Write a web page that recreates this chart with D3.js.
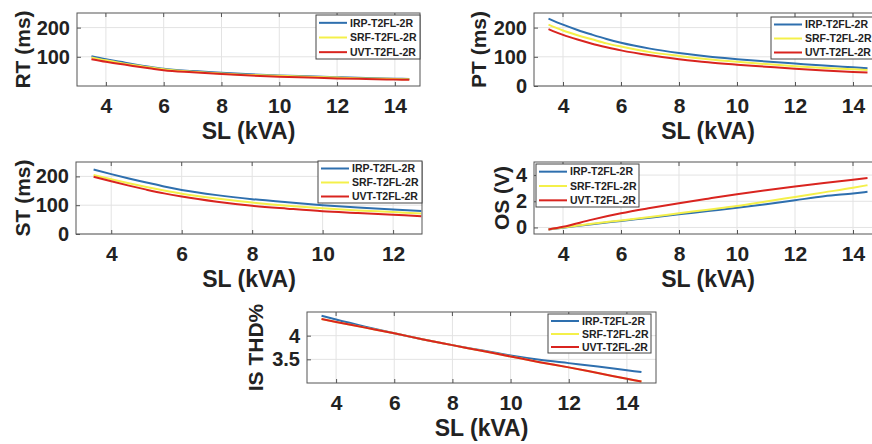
<!DOCTYPE html>
<html>
<head>
<meta charset="utf-8">
<script src="https://cdn.jsdelivr.net/npm/d3@7"></script>
<style>
  body { margin: 0; background: #fff; }
  svg { display: block; font-family: "Liberation Sans", Arial, sans-serif; }
</style>
</head>
<body>
<div id="chart"></div>
<script>
// series names + colours
const seriesNames = ["IRP-T2FL-2R", "SRF-T2FL-2R", "UVT-T2FL-2R"];
const seriesColors = ["#2e6fae", "#f4f04a", "#d9241f"];

// x values (SL in kVA)
const slFull = [3.5, 4, 4.5, 5, 5.5, 6, 7, 8, 9, 10, 11, 12, 13, 14, 14.5];
const slST = [3.5, 4, 4.5, 5, 5.5, 6, 7, 8, 9, 10, 11, 12, 12.8];
const slLin = [3.5, 4, 5, 6, 7, 8, 9, 10, 11, 12, 13, 14, 14.5];

// RT (ms)
const rtIRP = [102, 92, 83, 74, 66, 59, 51, 45, 40, 36, 33, 30, 27, 25, 24];
const rtSRF = [98, 88, 79, 71, 64, 57, 49, 43, 38, 35, 32, 29, 26, 24, 23];
const rtUVT = [92, 83, 75, 68, 61, 54, 47, 41, 36, 32, 29, 26, 24, 22, 21];

// PT (ms)
const ptIRP = [231, 210, 192, 176, 161, 148, 128, 113, 101, 92, 84, 77, 70, 64, 61];
const ptSRF = [210, 190, 174, 160, 146, 135, 116, 103, 92, 83, 75, 68, 62, 57, 55];
const ptUVT = [195, 175, 159, 145, 133, 122, 105, 92, 81, 73, 66, 59, 53, 48, 46];

// ST (ms)
const stIRP = [224, 208, 193, 179, 165, 153, 135, 121, 110, 100, 92, 85, 80];
const stSRF = [205, 190, 176, 163, 151, 140, 123, 109, 98, 89, 82, 76, 71];
const stUVT = [199, 183, 168, 154, 141, 130, 112, 98, 88, 79, 73, 67, 62];

// OS (V)
const osIRP = [-0.15, -0.02, 0.25, 0.5, 0.75, 1.0, 1.25, 1.5, 1.78, 2.08, 2.38, 2.6, 2.72];
const osSRF = [-0.15, 0.0, 0.28, 0.54, 0.8, 1.08, 1.36, 1.64, 1.98, 2.33, 2.68, 3.03, 3.23];
const osUVT = [-0.15, 0.05, 0.6, 1.08, 1.48, 1.85, 2.2, 2.54, 2.85, 3.13, 3.4, 3.65, 3.77];

// IS THD%
const thdIRP = [4.42, 4.34, 4.19, 4.05, 3.92, 3.8, 3.69, 3.58, 3.49, 3.42, 3.35, 3.27, 3.23];
const thdSRF = [4.35, 4.29, 4.17, 4.05, 3.92, 3.8, 3.68, 3.56, 3.44, 3.33, 3.21, 3.09, 3.03];
const thdUVT = [4.35, 4.29, 4.17, 4.05, 3.92, 3.8, 3.68, 3.56, 3.44, 3.33, 3.21, 3.09, 3.03];

// tick labels
const xTicksFull = [4, 6, 8, 10, 12, 14];
const xTicksST = [4, 6, 8, 10, 12];

const W = 872, H = 444;
const svg = d3.select("#chart").append("svg")
  .attr("width", W).attr("height", H);

function drawPanel(p) {
  const x = d3.scaleLinear().domain(p.xDomain).range([p.left, p.right]);
  const y = d3.scaleLinear().domain(p.yDomain).range([p.bottom, p.top]);
  const g = svg.append("g");

  // grid
  g.selectAll(".gx").data(p.xTicks).enter().append("line")
    .attr("x1", d => x(d)).attr("x2", d => x(d))
    .attr("y1", p.top).attr("y2", p.bottom)
    .attr("stroke", "#e3e3e3").attr("stroke-width", 1);
  g.selectAll(".gy").data(p.yTicks).enter().append("line")
    .attr("x1", p.left).attr("x2", p.right)
    .attr("y1", d => y(d)).attr("y2", d => y(d))
    .attr("stroke", "#e3e3e3").attr("stroke-width", 1);

  // lines
  const line = d3.line().x(d => x(d[0])).y(d => y(d[1])).curve(d3.curveMonotoneX);
  p.series.forEach(function(vals, i) {
    const pts = p.xs.map((xv, j) => [xv, vals[j]]);
    g.append("path").datum(pts)
      .attr("fill", "none")
      .attr("stroke", seriesColors[i])
      .attr("stroke-width", 2)
      .attr("d", line);
  });

  // box + axes
  g.append("rect")
    .attr("x", p.left).attr("y", p.top)
    .attr("width", p.right - p.left).attr("height", p.bottom - p.top)
    .attr("fill", "none").attr("stroke", "#555").attr("stroke-width", 1);

  const fmt = d3.format("~g");
  const xAxis = g.append("g")
    .attr("transform", `translate(0,${p.bottom})`)
    .call(d3.axisBottom(x).tickValues(p.xTicks).tickFormat(fmt)
      .tickSizeInner(-4).tickSizeOuter(0).tickPadding(12));
  const yAxis = g.append("g")
    .attr("transform", `translate(${p.left},0)`)
    .call(d3.axisLeft(y).tickValues(p.yTicks).tickFormat(fmt)
      .tickSizeInner(-4).tickSizeOuter(0).tickPadding(7));
  [xAxis, yAxis].forEach(a => {
    a.select(".domain").remove();
    a.selectAll(".tick line").attr("stroke", "#555");
    a.selectAll("text").attr("font-weight", "bold")
      .attr("fill", "#222").attr("font-family", "Liberation Sans, Arial, sans-serif");
  });
  xAxis.selectAll("text").attr("font-size", 21).attr("dy", "0.71em");
  yAxis.selectAll("text").attr("font-size", 20);
  // top ticks
  g.selectAll(".tt").data(p.xTicks).enter().append("line")
    .attr("x1", d => x(d)).attr("x2", d => x(d))
    .attr("y1", p.top).attr("y2", p.top + 4).attr("stroke", "#555");

  // axis titles
  g.append("text")
    .attr("x", (p.left + p.right) / 2).attr("y", p.bottom + 53)
    .attr("text-anchor", "middle")
    .attr("font-size", 23).attr("font-weight", "bold").attr("fill", "#222")
    .text("SL (kVA)");
  g.append("text")
    .attr("transform", `translate(${p.yTitleX},${(p.top + p.bottom) / 2}) rotate(-90)`)
    .attr("text-anchor", "middle")
    .attr("font-size", 21).attr("font-weight", "bold").attr("fill", "#222")
    .text(p.yTitle);

  // legend
  const lg = g.append("g").attr("transform", `translate(${p.legX},${p.legY})`);
  lg.append("rect").attr("width", p.legW).attr("height", p.legH)
    .attr("fill", "#fff").attr("stroke", "#444").attr("stroke-width", 1);
  const rowH = p.legH / 3;
  seriesNames.forEach(function(name, i) {
    const cy = rowH * (i + 0.5) + 0.5;
    lg.append("line").attr("x1", 3).attr("x2", 31)
      .attr("y1", cy).attr("y2", cy)
      .attr("stroke", seriesColors[i]).attr("stroke-width", 2);
    lg.append("text").attr("x", 34).attr("y", cy).attr("dy", "0.35em")
      .attr("font-size", 10.5).attr("font-weight", "bold").attr("fill", "#222")
      .text(name);
  });
}

drawPanel({ left: 77, right: 420, top: 13, bottom: 86,
  xDomain: [3, 14.87], yDomain: [0, 250], xTicks: xTicksFull, yTicks: [100, 200],
  xs: slFull, series: [rtIRP, rtSRF, rtUVT], yTitle: "RT (ms)", yTitleX: 30,
  legX: 316, legY: 15, legW: 104, legH: 44 });

drawPanel({ left: 534, right: 882, top: 13, bottom: 86,
  xDomain: [3, 15], yDomain: [0, 250], xTicks: xTicksFull, yTicks: [0, 100, 200],
  xs: slFull, series: [ptIRP, ptSRF, ptUVT], yTitle: "PT (ms)", yTitleX: 486,
  legX: 771, legY: 17, legW: 104, legH: 42 });

drawPanel({ left: 76, right: 422, top: 162, bottom: 234,
  xDomain: [3, 12.82], yDomain: [0, 250], xTicks: xTicksST, yTicks: [0, 100, 200],
  xs: slST, series: [stIRP, stSRF, stUVT], yTitle: "ST (ms)", yTitleX: 30,
  legX: 318, legY: 161, legW: 104, legH: 42 });

drawPanel({ left: 534, right: 882, top: 162, bottom: 234,
  xDomain: [3, 15], yDomain: [-0.5, 5], xTicks: xTicksFull, yTicks: [0, 2, 4],
  xs: slLin, series: [osIRP, osSRF, osUVT], yTitle: "OS (V)", yTitleX: 509,
  legX: 536, legY: 164, legW: 103, legH: 43 });

drawPanel({ left: 307, right: 656, top: 312, bottom: 383,
  xDomain: [3, 15], yDomain: [3, 4.5], xTicks: xTicksFull, yTicks: [3.5, 4],
  xs: slLin, series: [thdIRP, thdSRF, thdUVT], yTitle: "IS THD%", yTitleX: 263,
  legX: 548, legY: 314, legW: 103, legH: 39 });
</script>
</body>
</html>
